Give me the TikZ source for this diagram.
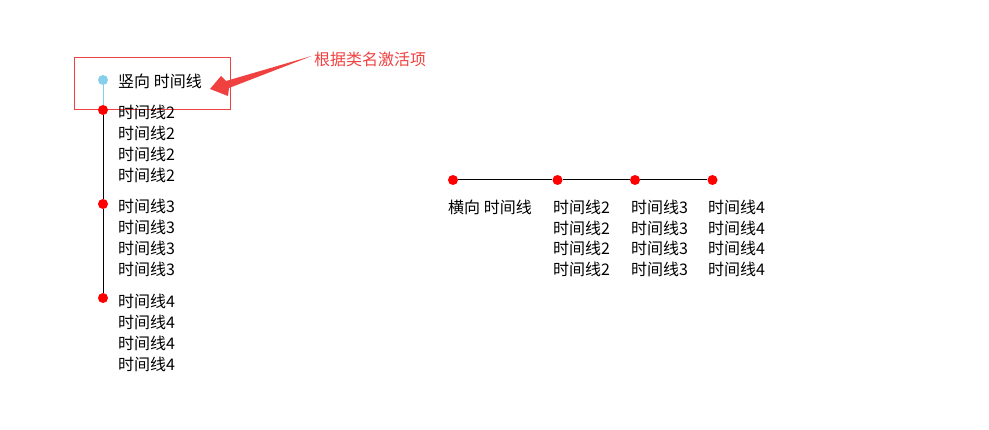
\documentclass[tikz,border=0pt]{standalone}
\usepackage{fontspec}
\newfontfamily\cjk{Noto Sans CJK SC}
\definecolor{hred}{RGB}{240,64,64}
\definecolor{skyb}{RGB}{135,206,235}
\begin{document}
\begin{tikzpicture}[x=1pt,y=-1pt,
  font=\cjk\fontsize{16pt}{19pt}\selectfont,
  dot/.style={circle,fill=red,draw=none,inner sep=0pt,minimum size=10pt},
  adot/.style={dot,fill=skyb},
  txt/.style={anchor=base west,inner sep=0pt,text=black},
  axis/.style={draw=black,line width=1pt},
  aline/.style={draw=skyb,line width=1pt}]
\useasboundingbox (0,0) rectangle (989,430);
% highlight box
\draw[hred,line width=1pt] (74,58) rectangle (230,110);
% vertical timeline
\node[adot] (va) at (103,80) {};
\node[txt] (vt) at (118,88) {竖向 时间线};
\node[dot] (v2) at (103,110) {};
\node[dot] (v3) at (103,204) {};
\node[dot] (v4) at (103,298) {};
\draw[aline] (va) -- (v2);
\draw[axis] (v2) -- (v3);
\draw[axis] (v3) -- (v4);
\foreach \i in {0,1,2,3}{
  \node[txt] (vl2-\i) at (118,{118.5+21*\i}) {时间线2};
  \node[txt] (vl3-\i) at (118,{213+21*\i}) {时间线3};
  \node[txt] (vl4-\i) at (118,{307.5+21*\i}) {时间线4};
}
% annotation
\node[txt,text=hred] (lab) at (314,66) {根据类名激活项};
\fill[hred] (lab.west) ++(-2,-4) -- (226,81) -- (221,76) -- (210,89) -- (228,96) -- (229,88) -- cycle;
% horizontal timeline
\node[dot] (h1) at (453,180) {};
\node[dot] (h2) at (557.5,180) {};
\node[dot] (h3) at (635,180) {};
\node[dot] (h4) at (712.5,180) {};
\draw[axis] (h1) -- (h2);
\draw[axis] (h2) -- (h3);
\draw[axis] (h3) -- (h4);
\node[txt] (ht) at (448,213.5) {横向 时间线};
\foreach \i in {0,1,2,3}{
  \node[txt] (hl2-\i) at (553,{213.5+20.7*\i}) {时间线2};
  \node[txt] (hl3-\i) at (631,{213.5+20.7*\i}) {时间线3};
  \node[txt] (hl4-\i) at (708,{213.5+20.7*\i}) {时间线4};
}
\end{tikzpicture}
\end{document}
